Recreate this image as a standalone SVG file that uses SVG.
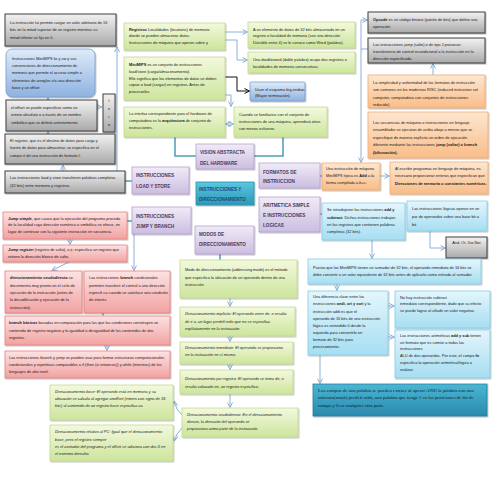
<svg xmlns="http://www.w3.org/2000/svg" width="495" height="495" viewBox="0 0 495 495">
<defs>
<linearGradient id="gG" x1="0" y1="0" x2="0" y2="1"><stop offset="0" stop-color="#f2f2f2"/><stop offset="1" stop-color="#a9a9a9"/></linearGradient>
<linearGradient id="gGr" x1="0" y1="0" x2="0" y2="1"><stop offset="0" stop-color="#f3f9de"/><stop offset="1" stop-color="#cde59c"/></linearGradient>
<linearGradient id="gP" x1="0" y1="0" x2="0" y2="1"><stop offset="0" stop-color="#fde2e2"/><stop offset="1" stop-color="#f2a2a2"/></linearGradient>
<linearGradient id="gO" x1="0" y1="0" x2="0" y2="1"><stop offset="0" stop-color="#fde7d1"/><stop offset="1" stop-color="#f9bd88"/></linearGradient>
<linearGradient id="gC" x1="0" y1="0" x2="0" y2="1"><stop offset="0" stop-color="#e4f6fc"/><stop offset="1" stop-color="#a6def2"/></linearGradient>
<linearGradient id="gB" x1="0" y1="0" x2="0" y2="1"><stop offset="0" stop-color="#dfebf9"/><stop offset="1" stop-color="#8eb2e0"/></linearGradient>
<linearGradient id="gV" x1="0" y1="0" x2="0" y2="1"><stop offset="0" stop-color="#f1ecf7"/><stop offset="1" stop-color="#cbbde0"/></linearGradient>
<linearGradient id="gT" x1="0" y1="0" x2="0" y2="1"><stop offset="0" stop-color="#5cc6de"/><stop offset="1" stop-color="#2c98b9"/></linearGradient>
<linearGradient id="gT2" x1="0" y1="0" x2="0" y2="1"><stop offset="0" stop-color="#4ab6d4"/><stop offset="1" stop-color="#2a8aad"/></linearGradient>
<filter id="sh" x="-10%" y="-10%" width="120%" height="130%"><feDropShadow dx="0.8" dy="1" stdDeviation="0.7" flood-color="#000" flood-opacity="0.3"/></filter>
<marker id="ar" viewBox="0 0 6 6" refX="5.5" refY="3" markerWidth="6" markerHeight="6" markerUnits="userSpaceOnUse" orient="auto-start-reverse"><path d="M0.5,0.5 L5.5,3 L0.5,5.5" fill="none" stroke="#8cb0d6" stroke-width="1"/></marker>
<marker id="ark" viewBox="0 0 6 6" refX="5.5" refY="3" markerWidth="6" markerHeight="6" markerUnits="userSpaceOnUse" orient="auto"><path d="M0.5,0.5 L5.5,3 L0.5,5.5" fill="none" stroke="#111" stroke-width="1"/></marker>
<style>
.t{font-family:"Liberation Sans",Arial,sans-serif;font-size:3.9px;fill:#1a1a1a}
.b{font-weight:bold}
.i{font-style:italic}
.h{font-family:"Liberation Sans",Arial,sans-serif;font-size:4.6px;font-weight:bold;fill:#4a3a5e}
.hc{font-family:"Liberation Sans",Arial,sans-serif;font-size:4.6px;font-weight:bold;fill:#1b4a78}
.s{font-family:"Liberation Serif","Times New Roman",serif;font-size:4.9px;fill:#0c2232}
.gray{fill:url(#gG);stroke:#3f3f3f;stroke-width:1;filter:url(#sh)}
.grn{fill:url(#gGr);stroke:#c3da92;stroke-width:0.8;filter:url(#sh)}
.pnk{fill:url(#gP);stroke:#e57f7f;stroke-width:0.8;filter:url(#sh)}
.org{fill:url(#gO);stroke:#f3aa70;stroke-width:0.8;filter:url(#sh)}
.cyn{fill:url(#gC);stroke:#84cde8;stroke-width:0.8;filter:url(#sh)}
.blu{fill:url(#gB);stroke:#789dd2;stroke-width:0.8;filter:url(#sh)}
.pur{fill:url(#gV);stroke:#b5a2d0;stroke-width:0.8;filter:url(#sh)}
.tea{fill:url(#gT);stroke:#2a8eae;stroke-width:0.8;filter:url(#sh)}
.tea2{fill:url(#gT2);stroke:#27809f;stroke-width:0.8;filter:url(#sh)}
.ln{fill:none;stroke:#8cb0d6;stroke-width:1}
.lt{fill:none;stroke:#4e9cb7;stroke-width:1.5}
</style>
</defs>
<rect width="495" height="495" fill="#ffffff"/>

<g id="connectors">
<path class="ln" d="M117,171 V47" marker-end="url(#ar)"/>
<path class="ln" d="M97,107 H102" marker-end="url(#ar)"/>
<path class="ln" d="M48,100 V97.5" marker-end="url(#ar)"/>
<path class="ln" d="M48,134 V131.5" marker-end="url(#ar)"/>
<path class="ln" d="M63,171 V165" marker-end="url(#ar)"/>
<path class="lt" d="M125,181 H132"/>
<path class="lt" d="M127,221 H132"/>
<path class="ln" d="M70,239 V244.5" marker-end="url(#ar)"/>
<path class="ln" d="M70,261.5 L52,270.5" marker-end="url(#ar)"/>
<path class="ln" d="M134,234 V270.5" marker-end="url(#ar)"/>
<path class="ln" d="M103,313 V315.5" marker-end="url(#ar)"/>
<path class="ln" d="M107,345 V350.5" marker-end="url(#ar)"/>
<path class="ln" d="M225,32 H247.5" marker-end="url(#ar)"/>
<path class="ln" d="M225,40 H237 V60 H247.5" marker-end="url(#ar)"/>
<path fill="none" stroke="#111" stroke-width="1" d="M225,77 H237 V91 H249.5" marker-end="url(#ark)"/>
<path class="ln" d="M225,95 H231 V106.5" marker-end="url(#ar)"/>
<path class="ln" d="M225.5,124 H233.5" marker-start="url(#ar)" marker-end="url(#ar)"/>
<path class="lt" d="M175,137 V156 H196"/>
<path class="lt" d="M254,156 H283 V137"/>
<path class="lt" d="M320,176 H322"/>
<path class="lt" d="M320,214 H322"/>
<path class="ln" d="M361,162.5 V20 H367.5" marker-start="url(#ar)" marker-end="url(#ar)"/>
<path class="ln" d="M361,49 H368"/>
<path class="ln" d="M433,75 V63.5" marker-end="url(#ar)"/>
<path class="ln" d="M380,176 H389.5" marker-end="url(#ar)"/>
<path class="ln" d="M372,240 V258.5" marker-end="url(#ar)"/>
<path class="ln" d="M430,231 V248 H445.5" marker-end="url(#ar)"/>
<path class="ln" d="M337,284 V290.5" marker-end="url(#ar)"/>
<path class="ln" d="M388,306 H394.5" marker-end="url(#ar)"/>
<path class="ln" d="M388,337 H394.5" marker-end="url(#ar)"/>
<path class="ln" d="M320,355 V383.5" marker-end="url(#ar)"/>
<path class="lt" d="M220,254 V260"/>
<path class="ln" d="M230,298 V306.5" marker-end="url(#ar)"/>
<path class="ln" d="M230,336 V341.5" marker-end="url(#ar)"/>
<path class="ln" d="M230,364 V369.5" marker-end="url(#ar)"/>
<path class="ln" d="M230,394 V407.5" marker-end="url(#ar)"/>
<path class="ln" d="M182,415 Q176,410 174,401" marker-end="url(#ar)"/>
<path class="ln" d="M182,428 Q176,434 174,441" marker-end="url(#ar)"/>
</g>

<g id="n-lui"><rect class="gray" x="5" y="14" width="111" height="32"/>
<text class="t"><tspan x="10" y="24">La instrucción lui permite cargar un valor arbitrario de 16</tspan><tspan x="10" y="31.3">bits en la mitad superior de un registro mientras su</tspan><tspan x="10" y="38.6">mitad inferior se fija en 0.</tspan></text></g>

<g id="n-minimips-lw"><rect class="blu" x="6" y="49" width="89" height="48" rx="6"/>
<text class="t"><tspan x="12" y="59.6">Instrucciones MiniMIPS lw y sw y sus</tspan><tspan x="12" y="67">convenciones de direccionamiento de</tspan><tspan x="12" y="74.4">memoria que permite el acceso simple a</tspan><tspan x="12" y="81.8">elementos de arreglos vía una dirección</tspan><tspan x="12" y="89.2">base y un offset</tspan></text></g>

<g id="n-offset"><rect class="gray" x="6" y="100" width="91" height="31"/>
<text class="t"><tspan x="11" y="108.6">el offset se puede especificar como un</tspan><tspan x="11" y="116.3">entero absoluto o a través de un nombre</tspan><tspan x="11" y="124">simbólico que se definió anteriormente</tspan></text></g>

<g id="n-tero"><rect class="gray" x="103" y="94" width="12" height="38"/>
<text class="t" text-anchor="middle"><tspan x="109" y="102">t</tspan><tspan x="109" y="110">e</tspan><tspan x="109" y="118">r</tspan><tspan x="109" y="126">o</tspan></text></g>

<g id="n-registro"><rect class="gray" x="5" y="134" width="110" height="30"/>
<text class="t"><tspan x="10" y="142">El registro, que es el destino de datos para carga y</tspan><tspan x="10" y="149.3">fuente de datos para almacenar, se especifica en el</tspan><tspan x="10" y="156.6">campo rt de una instrucción de formato I.</tspan></text></g>

<g id="n-loadstore-txt"><rect class="gray" x="5" y="171" width="120" height="22"/>
<text class="t"><tspan x="10" y="179.3">Las instrucciones load y store transfieren palabras completas</tspan><tspan x="10" y="187">(32 bits) entre memoria y registros.</tspan></text></g>

<g id="n-jumpsimple"><rect class="pnk" x="3" y="212" width="124" height="27"/>
<text class="t"><tspan x="8" y="219.6"><tspan class="b i">Jump simple</tspan>, que causa que la ejecución del programa proceda</tspan><tspan x="8" y="226.3">de la localidad cuya dirección numérica o simbólica se ofrece, en</tspan><tspan x="8" y="233">lugar de continuar con la siguiente instrucción en secuencia.</tspan></text></g>

<g id="n-jumpregister"><rect class="pnk" x="3" y="245" width="124" height="17"/>
<text class="t"><tspan x="8" y="251.2"><tspan class="b i">Jump register</tspan> (registro de salto), o jr, especifica un registro que</tspan><tspan x="8" y="258">retiene la dirección blanco de salto.</tspan></text></g>

<g id="n-seudo"><rect class="pnk" x="5" y="271" width="77" height="42"/>
<text class="t"><tspan x="10" y="279.3"><tspan class="b">direccionamiento seudodirecto</tspan> se</tspan><tspan x="10" y="286.6">decrementa muy pronto en el ciclo de</tspan><tspan x="10" y="293.9">ejecución de la instrucción (antes de</tspan><tspan x="10" y="301.2">la decodificación y ejecución de la</tspan><tspan x="10" y="308.5">instrucción).</tspan></text></g>

<g id="n-branchcond"><rect class="pnk" x="84" y="271" width="86" height="42"/>
<text class="t"><tspan x="89" y="279.3">Las instrucciones <tspan class="b">branch</tspan> condicionales</tspan><tspan x="89" y="286.6">permiten transferir el control a una dirección</tspan><tspan x="89" y="293.9">especifi ca cuando se satisface una condición</tspan><tspan x="89" y="301.2">de interés.</tspan></text></g>

<g id="n-branchbasic"><rect class="pnk" x="5" y="316" width="165" height="29"/>
<text class="t"><tspan x="9" y="324.3"><tspan class="b">branch básicas</tspan> basadas en comparación para las que las condiciones constituyen un</tspan><tspan x="9" y="331.6">contenido de registro negativo y la igualdad o desigualdad de los contenidos de dos</tspan><tspan x="9" y="338.9">registros.</tspan></text></g>

<g id="n-branchjump"><rect class="pnk" x="5" y="351" width="165" height="27"/>
<text class="t"><tspan x="9" y="359.3">Las instrucciones branch y jump se pueden usar para formar estructuras computacionales</tspan><tspan x="9" y="366">condicionales y repetitivas comparables a if (then (si entonces)) y while (mientras) de los</tspan><tspan x="9" y="372.7">lenguajes de alto nivel.</tspan></text></g>

<g id="n-registros"><rect class="grn" x="124" y="23" width="101" height="27"/>
<text class="t"><tspan x="129" y="30.6"><tspan class="b">Registros</tspan> Localidades (locations) de memoria</tspan><tspan x="129" y="37.3">donde se pueden almacenar datos.</tspan><tspan x="129" y="44">Instrucciones de máquina que operan sobre y</tspan></text></g>

<g id="n-minimips-ls"><rect class="grn" x="124" y="57" width="101" height="43"/>
<text class="t"><tspan x="129" y="66.3"><tspan class="b">MiniMIPS</tspan> es un conjunto de instrucciones</tspan><tspan x="129" y="73">load/store (carga/almacenamiento).</tspan><tspan x="129" y="79.7">Ello significa que los elementos de datos se deben</tspan><tspan x="129" y="86.4">copiar o load (cargar) en registros. Antes de</tspan><tspan x="129" y="93.1">procesarlos.</tspan></text></g>

<g id="n-interfaz"><rect class="grn" x="124" y="107" width="101" height="30"/>
<text class="t"><tspan x="129" y="114.6">La interfaz correspondiente para el hardware de</tspan><tspan x="129" y="121.6">computadora es la <tspan class="b">arquitectura</tspan> de conjunto de</tspan><tspan x="129" y="128.6">instrucciones.</tspan></text></g>

<g id="n-elemento"><rect class="grn" x="248" y="22" width="107" height="26"/>
<text class="t"><tspan x="253" y="30.6">A un elemento de datos de 32 bits almacenado en un</tspan><tspan x="253" y="37.3">registro o localidad de memoria (con una dirección</tspan><tspan x="253" y="44">Divisible entre 4) se le conoce como Word (palabra).</tspan></text></g>

<g id="n-doubleword"><rect class="grn" x="248" y="52" width="107" height="21"/>
<text class="t"><tspan x="253" y="61.3">Una doubleword (doble palabra) ocupa dos registros o</tspan><tspan x="253" y="68">localidades de memoria consecutivas.</tspan></text></g>

<g id="n-bigendian"><rect class="blu" x="250" y="82" width="55" height="19" rx="1"/>
<text class="t"><tspan x="255" y="90.6">Usan el esquema big-endian</tspan><tspan x="255" y="97">(Mayor terminación).</tspan></text></g>

<g id="n-cuando"><rect class="grn" x="234" y="107" width="93" height="30"/>
<text class="t"><tspan x="239" y="116.3">Cuando se familiarice con el conjunto de</tspan><tspan x="239" y="123">instrucciones de una máquina, aprenderá otros</tspan><tspan x="239" y="129.7">con menos esfuerzo.</tspan></text></g>

<g id="p-vision"><rect class="pur" x="196" y="144" width="58" height="25"/>
<text class="h"><tspan x="200" y="153.5">VISION ABSTRACTA</tspan><tspan x="200" y="164.5">DEL HARDWARE</tspan></text></g>

<g id="p-loadstore"><rect class="pur" x="132" y="167" width="57" height="27"/>
<text class="h"><tspan x="136" y="176.5">INSTRUCCIONES</tspan><tspan x="136" y="187.5">LOAD Y STORE</tspan></text></g>

<g id="p-central"><rect class="tea" x="196" y="182" width="58" height="23"/>
<text class="hc"><tspan x="199" y="190.5">INSTRUCCIONES Y</tspan><tspan x="199" y="200.5">DIRECCIONAMIENTO</tspan></text></g>

<g id="p-formatos"><rect class="pur" x="259" y="163" width="61" height="25"/>
<text class="h"><tspan x="263" y="173.5">FORMATOS DE</tspan><tspan x="263" y="183">INSTRUCCION</tspan></text></g>

<g id="p-jumpbranch"><rect class="pur" x="132" y="207" width="59" height="27"/>
<text class="h"><tspan x="136" y="217.5">INSTRUCCIONES</tspan><tspan x="136" y="228">JUMP Y BRANCH</tspan></text></g>

<g id="p-aritmetica"><rect class="pur" x="259" y="197" width="61" height="35"/>
<text class="h"><tspan x="263" y="206.5">ARITMETICA SIMPLE</tspan><tspan x="263" y="216.5">E INSTRUCCIONES</tspan><tspan x="263" y="226.5">LOGICAS</tspan></text></g>

<g id="p-modos"><rect class="pur" x="195" y="226" width="59" height="28"/>
<text class="h"><tspan x="199" y="235.5">MODOS DE</tspan><tspan x="199" y="245.5">DIRECCIONAMIENTO</tspan></text></g>

<g id="n-opcode"><rect class="gray" x="368" y="12" width="117" height="21"/>
<text class="t"><tspan x="373" y="20.6"><tspan class="b">Opcode</tspan> es un código binario (patrón de bits) que define una</tspan><tspan x="373" y="28">operación.</tspan></text></g>

<g id="n-jumpJ"><rect class="gray" x="368" y="38" width="117" height="25"/>
<text class="t"><tspan x="373" y="46.3">Las instrucciones jump (salto) o de tipo J provocan</tspan><tspan x="373" y="53.3">transferencia de control incondicional a la instrucción en la</tspan><tspan x="373" y="60.3">dirección especificada.</tspan></text></g>

<g id="n-simplicidad"><rect class="org" x="368" y="75" width="117" height="33"/>
<text class="t"><tspan x="373" y="84">La simplicidad y uniformidad de los formatos de instrucción</tspan><tspan x="373" y="91.3">son comunes en los modernos RISC (reduced instruction set</tspan><tspan x="373" y="98.6">computer, computadora con conjuntos de instrucciones</tspan><tspan x="373" y="105.6">reducido).</tspan></text></g>

<g id="n-secuencias"><rect class="org" x="368" y="112" width="120" height="46"/>
<text class="t"><tspan x="373" y="123.5">Las secuencias de máquina o instrucciones en lenguaje</tspan><tspan x="373" y="131">ensamblador se ejecutan de arriba abajo a menos que se</tspan><tspan x="373" y="138.5">especifique de manera explícita un orden de ejecución</tspan><tspan x="373" y="146">diferente mediante las instrucciones <tspan class="b">jump (saltar) o branch</tspan></tspan><tspan x="373" y="153.5" class="b">(bifurcación).</tspan></text></g>

<g id="n-unainstr"><rect class="org" x="322" y="163" width="58" height="27"/>
<text class="t"><tspan x="326" y="170.3">Una instrucción de máquina</tspan><tspan x="326" y="177">MiniMIPS típica es <tspan class="b">Add</tspan> a la</tspan><tspan x="326" y="183.7">forma compilada a-b+c.</tspan></text></g>

<g id="n-alescribir"><rect class="org" x="390" y="162" width="98" height="32"/>
<text class="t"><tspan x="395" y="170.3">Al escribir programas en lenguaje de máquina, es</tspan><tspan x="395" y="177.3">necesario proporcionar enteros que especifican que</tspan><tspan x="395" y="184.6" class="b">Direcciones de memoria o constantes numéricas.</tspan></text></g>

<g id="n-seintro"><rect class="cyn" x="322" y="203" width="83" height="37"/>
<text class="t"><tspan x="327" y="211.3">Se introdujeron las instrucciones <tspan class="b">add y</tspan></tspan><tspan x="327" y="218.6"><tspan class="b">subtract</tspan>. Dichas instrucciones trabajan</tspan><tspan x="327" y="225.9">en los registros que contienen palabras</tspan><tspan x="327" y="233.2">completas (32 bits).</tspan></text></g>

<g id="n-logicas"><rect class="cyn" x="407" y="201" width="80" height="30"/>
<text class="t"><tspan x="412" y="210.3">Las instrucciones lógicas operan en un</tspan><tspan x="412" y="218.3">par de operandos sobre una base bit a</tspan><tspan x="412" y="226.3">bit.</tspan></text></g>

<g id="n-and"><rect class="gray" x="446" y="237" width="41" height="21"/>
<text class="t" text-anchor="middle"><tspan x="466.5" y="244">And, Or, Xor,Nor</tspan></text></g>

<g id="n-puesto"><rect class="cyn" x="308" y="259" width="173" height="25"/>
<text class="t"><tspan x="313" y="268.6">Puesto que los MiniMIPS tienen un sumador de 32 bits, el operando inmediato de 16 bits se</tspan><tspan x="313" y="276">debe convertir a un valor equivalente de 32 bits antes de aplicarlo como entrada al sumador.</tspan></text></g>

<g id="n-diferencia"><rect class="cyn" x="308" y="291" width="80" height="64"/>
<text class="t"><tspan x="313" y="297.8">Una diferencia clave entre las</tspan><tspan x="313" y="305.2">instrucciones <tspan class="b">andi, ori y xori</tspan> y la</tspan><tspan x="313" y="312.6">instrucción addi es que el</tspan><tspan x="313" y="320">operando de 16 bits de una instrucción</tspan><tspan x="313" y="327.2">lógica es extendido 0 desde la</tspan><tspan x="313" y="334.2">izquierda para convertirlo en</tspan><tspan x="313" y="341.2">formato de 32 bits para</tspan><tspan x="313" y="348.2">procesamiento.</tspan></text></g>

<g id="n-nohay"><rect class="cyn" x="395" y="291" width="95" height="37"/>
<text class="t"><tspan x="400" y="298.6">No hay instrucción subtract</tspan><tspan x="400" y="305">inmediato correspondiente, dado que su efecto</tspan><tspan x="400" y="311.6">se puede lograr al añadir un valor negativo.</tspan></text></g>

<g id="n-aritmeticas"><rect class="cyn" x="395" y="330" width="95" height="48"/>
<text class="t"><tspan x="400" y="336.8">Las instrucciones aritméticas <tspan class="b">add y sub</tspan> tienen</tspan><tspan x="400" y="343.6">un formato que es común a todas las</tspan><tspan x="400" y="350.4">instrucciones</tspan><tspan x="400" y="357.2">ALU de dos operandos. Por esto, el campo <tspan class="b">fn</tspan></tspan><tspan x="400" y="364">especifica la operación aritmética/lógica a</tspan><tspan x="400" y="370.8">realizar.</tspan></text></g>

<g id="n-campos"><rect class="tea2" x="313" y="384" width="174" height="32"/>
<text class="s"><tspan x="318" y="392">Los campos de una palabra se pueden extraer al operar AND la palabra con una</tspan><tspan x="318" y="399.2">máscara(mask) predefi nida, una palabra que tenga 1 en las posiciones de bit de</tspan><tspan x="318" y="406.6">campo y 0 en cualquier otra parte.</tspan></text></g>

<g id="n-modo"><rect class="grn" x="180" y="260" width="117" height="38"/>
<text class="t"><tspan x="185" y="271">Modo de direccionamiento (addressing mode) es el método</tspan><tspan x="185" y="278.6">que especifica la ubicación de un operando dentro de una</tspan><tspan x="185" y="286.2">instrucción.</tspan></text></g>

<g id="n-implicito"><rect class="grn" x="180" y="307" width="115" height="29"/>
<text class="t i"><tspan x="185" y="315.3">Direccionamiento implícito: El operando viene de, o resulta</tspan><tspan x="185" y="322.6">de ir a, un lugar predefi nido que no se especifica</tspan><tspan x="185" y="329.9">explícitamente en la instrucción.</tspan></text></g>

<g id="n-inmediato"><rect class="grn" x="180" y="342" width="113" height="22"/>
<text class="t i"><tspan x="185" y="349.3">Direccionamiento inmediato: El operando se proporciona</tspan><tspan x="185" y="356">en la instrucción en sí misma.</tspan></text></g>

<g id="n-porregistro"><rect class="grn" x="180" y="370" width="113" height="24"/>
<text class="t i"><tspan x="185" y="379.5">Direccionamiento por registro: El operando se toma de, o</tspan><tspan x="185" y="387.5">resulta colocado en, un registro específico.</tspan></text></g>

<g id="n-seudodirecto"><rect class="grn" x="182" y="408" width="116" height="29"/>
<text class="t i"><tspan x="187" y="416">Direccionamiento seudodirecto: En el direccionamiento</tspan><tspan x="187" y="423.2">directo, la dirección del operando se</tspan><tspan x="187" y="430.4">proporciona como parte de la instrucción.</tspan></text></g>

<g id="n-base"><rect class="grn" x="50" y="385" width="123" height="35"/>
<text class="t i"><tspan x="55" y="393.3">Direccionamiento base: El operando está en memoria y su</tspan><tspan x="55" y="400.3">ubicación se calcula al agregar unoffset (entero con signo de 16</tspan><tspan x="55" y="407.3">bits) al contenido de un registro base especifica co.</tspan></text></g>

<g id="n-relativo"><rect class="grn" x="50" y="425" width="123" height="36"/>
<text class="t i"><tspan x="55" y="433.3">Direccionamiento relativo al PC: Igual que el direccionamiento</tspan><tspan x="55" y="440.5">base, pero el registro siempre</tspan><tspan x="55" y="447.5">es el contador del programa y el offset se adiciona con dos 0 en</tspan><tspan x="55" y="454.5">el extremo derecho.</tspan></text></g>
</svg>
